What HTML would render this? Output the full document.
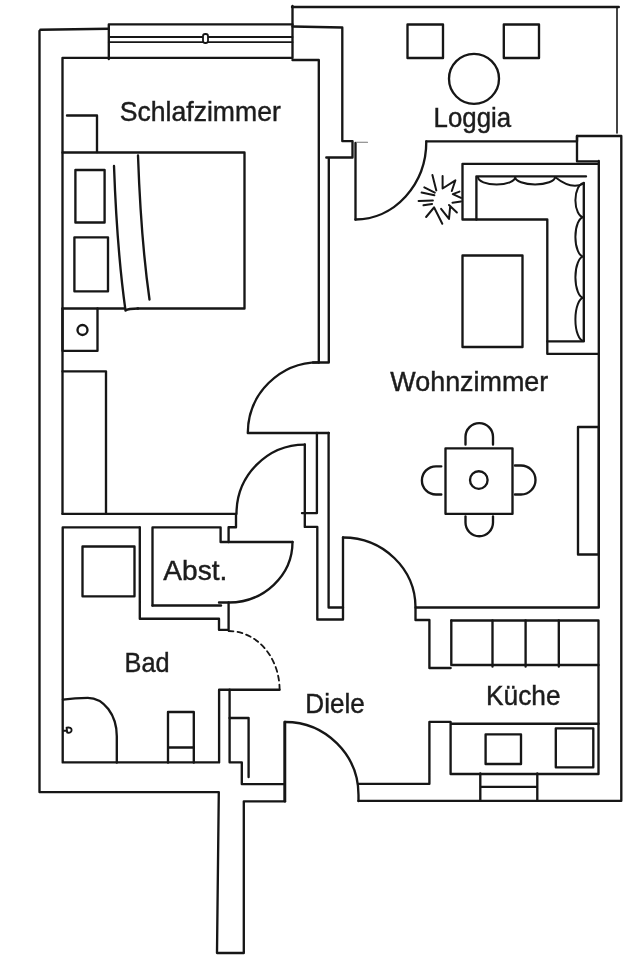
<!DOCTYPE html>
<html><head><meta charset="utf-8"><title>Grundriss</title>
<style>
html,body{margin:0;padding:0;background:#fff;width:640px;height:960px;overflow:hidden}
svg{display:block;filter:grayscale(1)}
text{font-family:"Liberation Sans",sans-serif;fill:#1c1c1c}
</style></head><body>
<svg width="640" height="960" viewBox="0 0 640 960">
<g fill="none" stroke="#161616" stroke-width="2.35" stroke-linejoin="round" stroke-linecap="round">
<!-- outer left / bottom -->
<path d="M40.5 29.8 L108.5 28.8" stroke-width="2.6"/>
<path d="M39.5 31 V792.1 H218.8 L217 953 H243.8 V801.3 H285"/>
<!-- window schlafzimmer -->
<path d="M108.8 59 V24.4 H292.5"/>
<path d="M108.8 37 H292.5 M108.8 42.2 H292.5" stroke-width="1.8"/>
<rect x="203" y="34" width="5" height="9" rx="2.2" fill="#fff" stroke-width="1.8"/>
<path d="M62.5 513.8 V57.8 H292.5 V6 M292.5 60 H318.8 V362.5"/>
<!-- loggia -->
<path d="M292 7 H618.8"/>
<path d="M292.5 26.5 L342.3 27.5 V141.1 H352.5 V157.5 H326.3 M328.8 157.5 V362.5 H313"/>
<path d="M617 7 V133" stroke-width="1.6"/>
<rect x="407.5" y="24.5" width="35.5" height="33.5"/>
<rect x="503.8" y="24.5" width="35.2" height="33.5"/>
<circle cx="474" cy="78.8" r="25"/>
<!-- loggia door -->
<path d="M355.5 143 V219.5"/>
<path d="M356.5 142.3 H367.5" stroke-width="1.1" stroke="#777"/>
<path d="M355.5 219.5 A71 78 0 0 0 426.3 141.3"/>
<path d="M426.3 141.3 H577 V136 H621.3 V800.8 H358.5"/>
<path d="M577 136 V161.3 H597.5"/>
<!-- schlafzimmer furniture -->
<path d="M67 115.5 H97 V152"/>
<path d="M62.5 152.5 H244.5 V308.5 H137.5"/>
<path d="M124 308.5 H62.5"/>
<rect x="75.4" y="170" width="29.2" height="52.5"/>
<rect x="74.4" y="237.3" width="33.6" height="54"/>
<path d="M114 166 Q117 250 125.5 310.5 Q128 308.5 138 308.5"/>
<path d="M138 155.5 Q141 240 149.5 299.5"/>
<path d="M62.5 308.5 V350.8 H97.5 V308.5"/>
<circle cx="82.5" cy="330" r="5"/>
<path d="M62.5 371.3 H106 V513.8"/>
<path d="M62.5 513.8 H236 V527.2 H228.6 V542"/>
<!-- door schlafzimmer -->
<path d="M318.8 362.3 A71 70.7 0 0 0 247.8 433 H328.8"/>
<path d="M316.9 433 V513.1 H302 M304.8 444.4 V526.9 H317.3 V619.5 H343 V537.5"/>
<path d="M328.6 433 V607.5 H343"/>
<path d="M304.8 444.6 A68.3 69.2 0 0 0 236.5 513.8"/>
<!-- wohnzimmer door -->
<path d="M343 537.5 A72.5 70 0 0 1 415.5 607.5 H598.8 V161"/>
<path d="M415.5 607.5 V620 H429.4 V668 H450.6"/>
<!-- sofa -->
<path d="M462.5 163.8 H597.9 M462.5 163.8 V219.5 H547.3 V353.8 H597.9"/>
<path d="M476.4 219.5 V176.3 H586"/>
<path d="M583.8 183 V341.3 H547.3"/>
<path d="M478 177 A18.6 7.5 0 0 0 515.2 177 A19.9 7.5 0 0 0 555 177 Q572 190.5 583.8 183.3" stroke-width="2"/>
<path d="M583.8 183.3 A8.4 16.95 0 0 0 583.8 217.2 A8.4 19.70 0 0 0 583.8 256.6 A8.4 20.60 0 0 0 583.8 297.8 A8.4 21.60 0 0 0 583.8 341.0" stroke-width="2"/>
<rect x="462.5" y="255.5" width="60" height="91.5"/>
<path d="M432.4 175 L436.3 190.4 M442.6 176.1 L442.6 188.5 L455.4 180.3 L451.8 191 M459.5 191.6 L452.8 194.1 L461 197.9 M452.5 202.7 L461 201.5 M449 205 L456.9 212.5 M441.1 208.8 L449 218.9 L450.1 207.3 M434 207.3 L442.3 223.8 M426.1 217 L433.6 208 M423.5 205.3 L432.1 203.9 M418.6 200.9 L432.9 200.5 M421.6 192.6 L434.4 195.3 M424.3 187.4 L434.8 192.6" stroke-width="2.0"/>
<!-- dining table -->
<rect x="445.5" y="448.3" width="67" height="65.5"/>
<circle cx="478.8" cy="480" r="8.8"/>
<path d="M465.5 444.5 V436.8 A13.75 13.75 0 0 1 493 436.8 V444.5"/>
<path d="M465.5 516.3 V522.5 A13.75 13.75 0 0 0 493 522.5 V516.3"/>
<path d="M441.3 466.3 H436 A14.1 14.1 0 0 0 436 494.5 H441.3"/>
<path d="M515 465.5 H521 A14.5 14.5 0 0 1 521 494.5 H515"/>
<rect x="578" y="427" width="20.8" height="127.5"/>
<!-- kueche -->
<path d="M451.3 620.5 H598.5 V774 H450.6 V721.9 H429.4 V783.8 H358.5"/>
<path d="M451.3 620.5 V665 H598.5 M492.5 620.5 V666.5 M525.6 620.5 V666.5 M558.8 620.5 V666.5"/>
<path d="M451.3 723.7 H598.5"/>
<rect x="485.6" y="734.4" width="35.4" height="29.6"/>
<rect x="555.8" y="728.3" width="37.5" height="39"/>
<path d="M480.3 773.5 V800.5 M537.3 773.5 V800.5 M480.3 786.9 H537.3"/>
<!-- entrance door -->
<path d="M285.1 722 V801.3"/>
<path d="M285.1 722 A73.4 73 0 0 1 358.5 795 V801"/>
<!-- abst -->
<path d="M139.8 527.4 H62.7 V762.4 H219.1 V689.7 H279.5"/>
<path d="M139.8 527.4 V618.7 H219 V629.8 H228.6 V602.5"/>
<path d="M152.5 605.5 V527.4 H220.6 V542 H292.5"/>
<path d="M152.5 605.5 H221"/>
<path d="M292.5 542 A63.9 60.5 0 0 1 228.6 602.5 H219"/>
<path d="M228.6 631 A51 58.8 0 0 1 279.6 689.8" stroke-dasharray="5 4" stroke-width="1.8"/>
<!-- bad -->
<rect x="82.5" y="546.5" width="52" height="49.8"/>
<path d="M62.9 699.6 Q75 697.8 87.8 697.8 A29 38.5 0 0 1 116.8 736.3 V762.5"/>
<path d="M63 730.8 H66.6 M66.6 727.6 Q71.6 726.8 71.6 730 Q71.6 733.2 67.2 732.6 Z" stroke-width="1.9"/>
<path d="M168 762.5 V712 H193.8 V762.5 M168 747.5 H193.8"/>
<!-- diele walls -->
<path d="M229.6 689.7 V762.3 H241.8 V784.1 H284.5 M284.5 722 V801"/>
<path d="M229.6 718 H248.6 V777"/>
</g>
<g stroke="#1c1c1c" stroke-width="0.45">
<text x="119.8" y="120.9" font-size="28" textLength="161.0" lengthAdjust="spacingAndGlyphs">Schlafzimmer</text>
<text x="433.6" y="127.3" font-size="28" textLength="77.5" lengthAdjust="spacingAndGlyphs">Loggia</text>
<text x="390.3" y="390.8" font-size="28" textLength="158.0" lengthAdjust="spacingAndGlyphs">Wohnzimmer</text>
<text x="163.3" y="579.6" font-size="28" textLength="64.0" lengthAdjust="spacingAndGlyphs">Abst.</text>
<text x="124.6" y="671.9" font-size="28" textLength="45.0" lengthAdjust="spacingAndGlyphs">Bad</text>
<text x="305.3" y="712.8" font-size="28" textLength="59.5" lengthAdjust="spacingAndGlyphs">Diele</text>
<text x="486.0" y="704.5" font-size="28" textLength="74.5" lengthAdjust="spacingAndGlyphs">Küche</text>
</g>
</svg>
</body></html>
